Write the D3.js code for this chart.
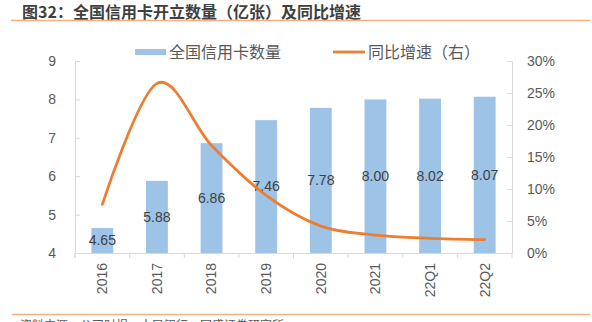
<!DOCTYPE html>
<html><head><meta charset="utf-8">
<script src="https://cdn.jsdelivr.net/npm/d3@7/dist/d3.min.js"></script>
<style>body{margin:0;background:#fff}svg{display:block}</style>
</head><body>
<svg id="c" width="592" height="322"></svg>
<script>
const categories = ["2016","2017","2018","2019","2020","2021","22Q1","22Q2"];
const cardCounts = [4.65, 5.88, 6.86, 7.46, 7.78, 8.00, 8.02, 8.07];
const yoyGrowth = [0.076, 0.265, 0.168, 0.090, 0.042, 0.028, 0.023, 0.021];
const leftTicks = [4,5,6,7,8,9];
const rightTicks = [0,0.05,0.10,0.15,0.20,0.25,0.30];
const title = "图32：全国信用卡开立数量（亿张）及同比增速";
const legendBar = "全国信用卡数量";
const legendLine = "同比增速（右）";
const source = "资料来源：公司财报，人民银行，国盛证券研究所";

const svg = d3.select("#c");
const L = 75, R = 512, T = 61, B = 253;
const cjk = "'Noto Sans CJK SC','Noto Sans',sans-serif";
const num = "'Liberation Sans',Arial,sans-serif";

const x = d3.scaleBand().domain(categories).range([L, R]).padding(0);
const y = d3.scaleLinear().domain([4, 9]).range([B, T]);
const y2 = d3.scaleLinear().domain([0, 0.30]).range([B, T]);
const bw = x.bandwidth();

// title
svg.append("text").attr("x", 22).attr("y", 17.5).attr("font-family", cjk)
  .attr("font-size", 16).attr("font-weight", "bold").attr("fill", "#3f3f3f").text(title);
svg.append("line").attr("x1", 11).attr("x2", 590).attr("y1", 20.5).attr("y2", 20.5)
  .attr("stroke", "#F4B183").attr("stroke-width", 1.5);

// bars
svg.append("g").selectAll("rect").data(categories).join("rect")
  .attr("x", d => x(d) + bw * 0.3).attr("width", bw * 0.4)
  .attr("y", (d, i) => y(cardCounts[i])).attr("height", (d, i) => B - y(cardCounts[i]))
  .attr("fill", "#9DC3E6");

// left axis
const ga = svg.append("g").attr("transform", `translate(${L},0)`)
  .call(d3.axisLeft(y).tickValues(leftTicks).tickSizeInner(-5).tickSizeOuter(0).tickPadding(19).tickFormat(d3.format("d")));
// right axis
const gr = svg.append("g").attr("transform", `translate(${R},0)`)
  .call(d3.axisRight(y2).tickValues(rightTicks).tickSizeInner(-5).tickSizeOuter(0).tickPadding(15).tickFormat(d3.format(".0%")));
// bottom axis
const gb = svg.append("g").attr("transform", `translate(0,${B})`)
  .call(d3.axisBottom(x).tickSize(0).tickPadding(10));
gb.selectAll(".tick text").attr("transform", "rotate(-90)").attr("text-anchor", "end")
  .attr("x", -10).attr("y", 0).attr("dy", "0.35em");
gb.selectAll(".tick line").remove();
const bounds = x.range().concat(categories.map(c => x(c)));
gb.selectAll("line.bt").data(bounds).join("line").attr("class","bt")
  .attr("x1", d => d).attr("x2", d => d).attr("y1", 0).attr("y2", 5).attr("stroke", "#d9d9d9");

[ga, gr, gb].forEach(g => {
  g.select(".domain").attr("stroke", "#d9d9d9");
  g.selectAll(".tick line").attr("stroke", "#d9d9d9");
  g.selectAll("text").attr("font-family", num).attr("font-size", 14).attr("fill", "#595959");
});

// data labels
svg.append("g").selectAll("text").data(categories).join("text")
  .attr("x", d => x(d) + bw / 2)
  .attr("y", (d, i) => (y(cardCounts[i]) + B) / 2)
  .attr("dy", "0.35em").attr("text-anchor", "middle")
  .attr("font-family", num).attr("font-size", 14).attr("fill", "#404040")
  .text((d, i) => cardCounts[i].toFixed(2));

// line
const line = d3.line().x((d, i) => x(categories[i]) + bw / 2).y(d => y2(d))
  .curve(d3.curveCatmullRom.alpha(0));
svg.append("path").datum(yoyGrowth).attr("d", line).attr("fill", "none")
  .attr("stroke", "#ED7D31").attr("stroke-width", 2.75).attr("stroke-linecap", "round");

// legend
svg.append("rect").attr("x", 135).attr("y", 49).attr("width", 31).attr("height", 6).attr("fill", "#9DC3E6");
svg.append("text").attr("x", 169).attr("y", 52).attr("dy", "0.35em").attr("font-family", cjk)
  .attr("font-size", 16).attr("fill", "#595959").text(legendBar);
svg.append("line").attr("x1", 333).attr("x2", 365).attr("y1", 52).attr("y2", 52)
  .attr("stroke", "#ED7D31").attr("stroke-width", 2.75);
svg.append("text").attr("x", 368).attr("y", 52).attr("dy", "0.35em").attr("font-family", cjk)
  .attr("font-size", 16).attr("fill", "#595959").text(legendLine);

// source
svg.append("line").attr("x1", 12).attr("x2", 590).attr("y1", 314.5).attr("y2", 314.5)
  .attr("stroke", "#F4B183").attr("stroke-width", 1.5);
svg.append("text").attr("x", 20).attr("y", 330).attr("font-family", cjk)
  .attr("font-size", 12).attr("fill", "#595959").text(source);
</script>
</body></html>
